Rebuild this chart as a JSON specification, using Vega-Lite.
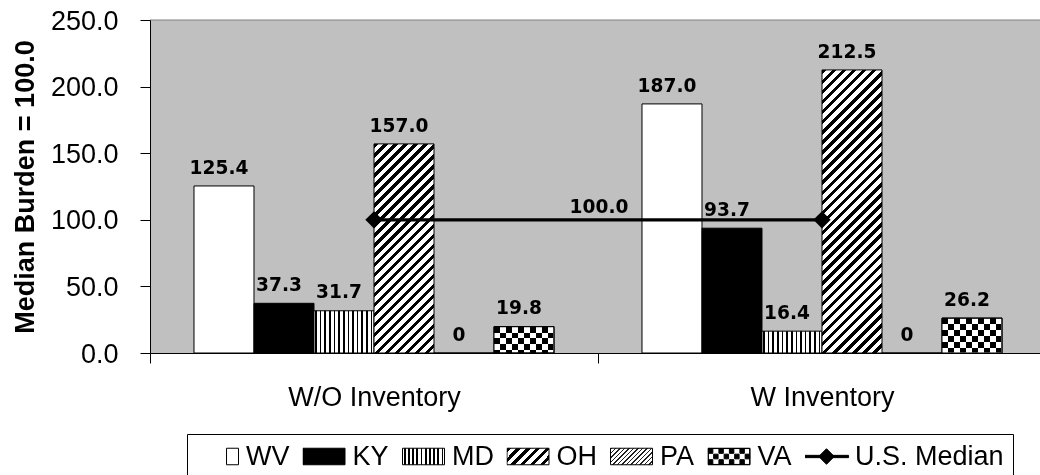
{
  "$schema": "https://vega.github.io/schema/vega-lite/v6.json",
  "width": 890,
  "height": 333,
  "autosize": {"type": "none"},
  "padding": {"left": 150, "top": 20, "right": 0, "bottom": 122},
  "background": "#ffffff",
  "view": {"fill": "#C0C0C0", "stroke": null},
  "datasets": {
    "bars": [
      {"group": "W/O Inventory", "state": "WV", "value": 125.4},
      {"group": "W/O Inventory", "state": "KY", "value": 37.3},
      {"group": "W/O Inventory", "state": "MD", "value": 31.7},
      {"group": "W/O Inventory", "state": "OH", "value": 157.0},
      {"group": "W/O Inventory", "state": "PA", "value": 0},
      {"group": "W/O Inventory", "state": "VA", "value": 19.8},
      {"group": "W Inventory", "state": "WV", "value": 187.0},
      {"group": "W Inventory", "state": "KY", "value": 93.7},
      {"group": "W Inventory", "state": "MD", "value": 16.4},
      {"group": "W Inventory", "state": "OH", "value": 212.5},
      {"group": "W Inventory", "state": "PA", "value": 0},
      {"group": "W Inventory", "state": "VA", "value": 26.2}
    ],
    "median": [
      {"group": "W/O Inventory", "series": "U.S. Median", "value": 100},
      {"group": "W Inventory", "series": "U.S. Median", "value": 100}
    ]
  },
  "layer": [
    {
      "data": {"name": "bars"},
      "mark": {"type": "bar", "stroke": "#000000", "strokeWidth": 1},
      "encoding": {
        "x": {
          "field": "group", "type": "nominal",
          "scale": {"domain": ["W/O Inventory", "W Inventory"], "range": [0, 896], "paddingInner": 0, "paddingOuter": 0},
          "axis": {
            "title": null, "labelAngle": 0, "tickBand": "extent", "tickSize": 10, "tickColor": "#000000",
            "domainColor": "#000000", "labelFont": "Liberation Sans", "labelFontSize": 27, "labelColor": "#000000",
            "labelPadding": 21, "zindex": 1
          }
        },
        "xOffset": {
          "field": "state", "type": "nominal",
          "scale": {"domain": ["WV", "KY", "MD", "OH", "PA", "VA"], "paddingInner": 0, "paddingOuter": 0.73333}
        },
        "y": {
          "field": "value", "type": "quantitative",
          "scale": {"domain": [0, 250], "nice": false, "zero": true},
          "axis": {
            "title": "Median Burden = 100.0", "values": [0, 50, 100, 150, 200, 250], "format": ".1f",
            "grid": false, "tickSize": 10, "tickColor": "#000000", "domainColor": "#000000",
            "labelFont": "Liberation Sans", "labelFontSize": 27, "labelColor": "#000000", "labelPadding": 22, "labelOffset": 1,
            "titleFont": "Liberation Sans", "titleFontSize": 27, "titleFontWeight": "bold", "titleColor": "#000000",
            "titleX": -117, "titleY": 166.5, "titleAngle": 270, "titleAlign": "center", "titleBaseline": "alphabetic", "zindex": 1
          }
        },
        "fill": {
          "field": "state", "type": "nominal",
          "scale": {
            "domain": ["WV", "KY", "MD", "OH", "PA", "VA", "U.S. Median"],
            "range": [
              "#ffffff",
              "#000000",
              {"expr": "{gradient:'linear',x1:0,y1:0,x2:1,y2:0,stops:[{offset:0,color:'#fff'},{offset:0.03,color:'#fff'},{offset:0.03,color:'#000'},{offset:0.075,color:'#000'},{offset:0.075,color:'#fff'},{offset:0.13,color:'#fff'},{offset:0.13,color:'#000'},{offset:0.175,color:'#000'},{offset:0.175,color:'#fff'},{offset:0.23,color:'#fff'},{offset:0.23,color:'#000'},{offset:0.275,color:'#000'},{offset:0.275,color:'#fff'},{offset:0.33,color:'#fff'},{offset:0.33,color:'#000'},{offset:0.375,color:'#000'},{offset:0.375,color:'#fff'},{offset:0.43,color:'#fff'},{offset:0.43,color:'#000'},{offset:0.475,color:'#000'},{offset:0.475,color:'#fff'},{offset:0.53,color:'#fff'},{offset:0.53,color:'#000'},{offset:0.575,color:'#000'},{offset:0.575,color:'#fff'},{offset:0.63,color:'#fff'},{offset:0.63,color:'#000'},{offset:0.675,color:'#000'},{offset:0.675,color:'#fff'},{offset:0.73,color:'#fff'},{offset:0.73,color:'#000'},{offset:0.775,color:'#000'},{offset:0.775,color:'#fff'},{offset:0.83,color:'#fff'},{offset:0.83,color:'#000'},{offset:0.875,color:'#000'},{offset:0.875,color:'#fff'},{offset:0.93,color:'#fff'},{offset:0.93,color:'#000'},{offset:0.975,color:'#000'},{offset:0.975,color:'#fff'},{offset:1,color:'#fff'}]}"},
              {"expr": "{gradient:'linear',x1:0,y1:0,x2:1.20663,y2:0.47403,stops:[{offset:0,color:'#000'},{offset:0.075,color:'#000'},{offset:0.075,color:'#fff'},{offset:0.166667,color:'#fff'},{offset:0.166667,color:'#000'},{offset:0.241667,color:'#000'},{offset:0.241667,color:'#fff'},{offset:0.333333,color:'#fff'},{offset:0.333333,color:'#000'},{offset:0.408333,color:'#000'},{offset:0.408333,color:'#fff'},{offset:0.5,color:'#fff'},{offset:0.5,color:'#000'},{offset:0.575,color:'#000'},{offset:0.575,color:'#fff'},{offset:0.666667,color:'#fff'},{offset:0.666667,color:'#000'},{offset:0.741667,color:'#000'},{offset:0.741667,color:'#fff'},{offset:0.833333,color:'#fff'},{offset:0.833333,color:'#000'},{offset:0.908333,color:'#000'},{offset:0.908333,color:'#fff'},{offset:1,color:'#fff'}]}"},
              {"expr": "{gradient:'linear',x1:0,y1:0,x2:1.20663,y2:0.47403,stops:[{offset:0,color:'#202020'},{offset:0.027,color:'#202020'},{offset:0.027,color:'#fff'},{offset:0.0769,color:'#fff'},{offset:0.0769,color:'#202020'},{offset:0.1039,color:'#202020'},{offset:0.1039,color:'#fff'},{offset:0.1538,color:'#fff'},{offset:0.1538,color:'#202020'},{offset:0.1808,color:'#202020'},{offset:0.1808,color:'#fff'},{offset:0.2308,color:'#fff'},{offset:0.2308,color:'#202020'},{offset:0.2578,color:'#202020'},{offset:0.2578,color:'#fff'},{offset:0.3077,color:'#fff'},{offset:0.3077,color:'#202020'},{offset:0.3347,color:'#202020'},{offset:0.3347,color:'#fff'},{offset:0.3846,color:'#fff'},{offset:0.3846,color:'#202020'},{offset:0.4116,color:'#202020'},{offset:0.4116,color:'#fff'},{offset:0.4615,color:'#fff'},{offset:0.4615,color:'#202020'},{offset:0.4885,color:'#202020'},{offset:0.4885,color:'#fff'},{offset:0.5385,color:'#fff'},{offset:0.5385,color:'#202020'},{offset:0.5655,color:'#202020'},{offset:0.5655,color:'#fff'},{offset:0.6154,color:'#fff'},{offset:0.6154,color:'#202020'},{offset:0.6424,color:'#202020'},{offset:0.6424,color:'#fff'},{offset:0.6923,color:'#fff'},{offset:0.6923,color:'#202020'},{offset:0.7193,color:'#202020'},{offset:0.7193,color:'#fff'},{offset:0.7692,color:'#fff'},{offset:0.7692,color:'#202020'},{offset:0.7962,color:'#202020'},{offset:0.7962,color:'#fff'},{offset:0.8462,color:'#fff'},{offset:0.8462,color:'#202020'},{offset:0.8732,color:'#202020'},{offset:0.8732,color:'#fff'},{offset:0.9231,color:'#fff'},{offset:0.9231,color:'#202020'},{offset:0.9501,color:'#202020'},{offset:0.9501,color:'#fff'},{offset:1,color:'#fff'}]}"},
              "#000000",
              "#000000"
            ]
          },
          "legend": {
            "title": null, "orient": "none", "legendX": 37, "legendY": 414, "direction": "horizontal",
            "padding": 9, "strokeColor": "#000000", "fillColor": "#ffffff",
            "symbolSize": 1764, "symbolType": "M-1,-0.393H1V0.393H-1Z", "clipHeight": 27,
            "labelFont": "Liberation Sans", "labelFontSize": 27, "labelColor": "#000000", "labelOffset": 7, "labelLimit": 300,
            "columnPadding": 12.5, "symbolStrokeColor": "#000000", "symbolStrokeWidth": 1, "symbolOpacity": 1,
            "encode": {
              "symbols": {
                "update": {
                  "shape": [
                    {"test": "datum.value === 'U.S. Median'", "value": "M-1.05,-0.055H1.05V0.055H-1.05ZM0,-0.37L0.37,0L0,0.37L-0.37,0Z"},
                    {"test": "datum.value === 'WV'", "value": "M0.43,-0.393H1V0.393H0.43Z"},
                    {"test": "datum.value === 'VA'", "value": "M-1,-0.393H1V0.393H-1ZM-0.985,-0.378V0.378H0.985V-0.378ZM-0.98,-0.373H-0.77V-0.151H-0.98ZM-0.48,-0.373H-0.27V-0.151H-0.48ZM0.02,-0.373H0.23V-0.151H0.02ZM0.52,-0.373H0.73V-0.151H0.52ZM-0.73,-0.111H-0.52V0.111H-0.73ZM-0.23,-0.111H-0.02V0.111H-0.23ZM0.27,-0.111H0.48V0.111H0.27ZM0.77,-0.111H0.98V0.111H0.77ZM-0.98,0.151H-0.77V0.373H-0.98ZM-0.48,0.151H-0.27V0.373H-0.48ZM0.02,0.151H0.23V0.373H0.02ZM0.52,0.151H0.73V0.373H0.52Z"},
                    {"value": "M-1,-0.393H1V0.393H-1Z"}
                  ],
                  "stroke": {"value": "#000000"},
                  "strokeWidth": {"value": 1}
                }
              }
            }
          },
          "condition": [
            {"test": "datum.state === 'MD'", "value": {"gradient": "linear", "x1": 0, "y1": 0, "x2": 1, "y2": 0, "stops": [
              {"offset": 0, "color": "#ffffff"}, {"offset": 0.02, "color": "#ffffff"}, {"offset": 0.02, "color": "#000000"}, {"offset": 0.047, "color": "#000000"},
              {"offset": 0.047, "color": "#ffffff"}, {"offset": 0.0969, "color": "#ffffff"}, {"offset": 0.0969, "color": "#000000"}, {"offset": 0.1239, "color": "#000000"},
              {"offset": 0.1239, "color": "#ffffff"}, {"offset": 0.1738, "color": "#ffffff"}, {"offset": 0.1738, "color": "#000000"}, {"offset": 0.2008, "color": "#000000"},
              {"offset": 0.2008, "color": "#ffffff"}, {"offset": 0.2508, "color": "#ffffff"}, {"offset": 0.2508, "color": "#000000"}, {"offset": 0.2778, "color": "#000000"},
              {"offset": 0.2778, "color": "#ffffff"}, {"offset": 0.3277, "color": "#ffffff"}, {"offset": 0.3277, "color": "#000000"}, {"offset": 0.3547, "color": "#000000"},
              {"offset": 0.3547, "color": "#ffffff"}, {"offset": 0.4046, "color": "#ffffff"}, {"offset": 0.4046, "color": "#000000"}, {"offset": 0.4316, "color": "#000000"},
              {"offset": 0.4316, "color": "#ffffff"}, {"offset": 0.4815, "color": "#ffffff"}, {"offset": 0.4815, "color": "#000000"}, {"offset": 0.5085, "color": "#000000"},
              {"offset": 0.5085, "color": "#ffffff"}, {"offset": 0.5585, "color": "#ffffff"}, {"offset": 0.5585, "color": "#000000"}, {"offset": 0.5855, "color": "#000000"},
              {"offset": 0.5855, "color": "#ffffff"}, {"offset": 0.6354, "color": "#ffffff"}, {"offset": 0.6354, "color": "#000000"}, {"offset": 0.6624, "color": "#000000"},
              {"offset": 0.6624, "color": "#ffffff"}, {"offset": 0.7123, "color": "#ffffff"}, {"offset": 0.7123, "color": "#000000"}, {"offset": 0.7393, "color": "#000000"},
              {"offset": 0.7393, "color": "#ffffff"}, {"offset": 0.7892, "color": "#ffffff"}, {"offset": 0.7892, "color": "#000000"}, {"offset": 0.8162, "color": "#000000"},
              {"offset": 0.8162, "color": "#ffffff"}, {"offset": 0.8662, "color": "#ffffff"}, {"offset": 0.8662, "color": "#000000"}, {"offset": 0.8932, "color": "#000000"},
              {"offset": 0.8932, "color": "#ffffff"}, {"offset": 0.9431, "color": "#ffffff"}, {"offset": 0.9431, "color": "#000000"}, {"offset": 0.9701, "color": "#000000"},
              {"offset": 0.9701, "color": "#ffffff"}, {"offset": 1, "color": "#ffffff"}
            ]}},
            {"test": "datum.state === 'OH' && datum.group === 'W/O Inventory'", "value": {"gradient": "linear", "x1": 0, "y1": 0, "x2": 0.3412, "y2": 1.18907, "stops": [
              {"offset": 0, "color": "#000000"}, {"offset": 0.016667, "color": "#000000"}, {"offset": 0.016667, "color": "#ffffff"}, {"offset": 0.037037, "color": "#ffffff"},
              {"offset": 0.037037, "color": "#000000"}, {"offset": 0.053704, "color": "#000000"}, {"offset": 0.053704, "color": "#ffffff"}, {"offset": 0.074074, "color": "#ffffff"},
              {"offset": 0.074074, "color": "#000000"}, {"offset": 0.090741, "color": "#000000"}, {"offset": 0.090741, "color": "#ffffff"}, {"offset": 0.111111, "color": "#ffffff"},
              {"offset": 0.111111, "color": "#000000"}, {"offset": 0.127778, "color": "#000000"}, {"offset": 0.127778, "color": "#ffffff"}, {"offset": 0.148148, "color": "#ffffff"},
              {"offset": 0.148148, "color": "#000000"}, {"offset": 0.164815, "color": "#000000"}, {"offset": 0.164815, "color": "#ffffff"}, {"offset": 0.185185, "color": "#ffffff"},
              {"offset": 0.185185, "color": "#000000"}, {"offset": 0.201852, "color": "#000000"}, {"offset": 0.201852, "color": "#ffffff"}, {"offset": 0.222222, "color": "#ffffff"},
              {"offset": 0.222222, "color": "#000000"}, {"offset": 0.238889, "color": "#000000"}, {"offset": 0.238889, "color": "#ffffff"}, {"offset": 0.259259, "color": "#ffffff"},
              {"offset": 0.259259, "color": "#000000"}, {"offset": 0.275926, "color": "#000000"}, {"offset": 0.275926, "color": "#ffffff"}, {"offset": 0.296296, "color": "#ffffff"},
              {"offset": 0.296296, "color": "#000000"}, {"offset": 0.312963, "color": "#000000"}, {"offset": 0.312963, "color": "#ffffff"}, {"offset": 0.333333, "color": "#ffffff"},
              {"offset": 0.333333, "color": "#000000"}, {"offset": 0.35, "color": "#000000"}, {"offset": 0.35, "color": "#ffffff"}, {"offset": 0.37037, "color": "#ffffff"},
              {"offset": 0.37037, "color": "#000000"}, {"offset": 0.387037, "color": "#000000"}, {"offset": 0.387037, "color": "#ffffff"}, {"offset": 0.407407, "color": "#ffffff"},
              {"offset": 0.407407, "color": "#000000"}, {"offset": 0.424074, "color": "#000000"}, {"offset": 0.424074, "color": "#ffffff"}, {"offset": 0.444444, "color": "#ffffff"},
              {"offset": 0.444444, "color": "#000000"}, {"offset": 0.461111, "color": "#000000"}, {"offset": 0.461111, "color": "#ffffff"}, {"offset": 0.481481, "color": "#ffffff"},
              {"offset": 0.481481, "color": "#000000"}, {"offset": 0.498148, "color": "#000000"}, {"offset": 0.498148, "color": "#ffffff"}, {"offset": 0.518519, "color": "#ffffff"},
              {"offset": 0.518519, "color": "#000000"}, {"offset": 0.535185, "color": "#000000"}, {"offset": 0.535185, "color": "#ffffff"}, {"offset": 0.555556, "color": "#ffffff"},
              {"offset": 0.555556, "color": "#000000"}, {"offset": 0.572222, "color": "#000000"}, {"offset": 0.572222, "color": "#ffffff"}, {"offset": 0.592593, "color": "#ffffff"},
              {"offset": 0.592593, "color": "#000000"}, {"offset": 0.609259, "color": "#000000"}, {"offset": 0.609259, "color": "#ffffff"}, {"offset": 0.62963, "color": "#ffffff"},
              {"offset": 0.62963, "color": "#000000"}, {"offset": 0.646296, "color": "#000000"}, {"offset": 0.646296, "color": "#ffffff"}, {"offset": 0.666667, "color": "#ffffff"},
              {"offset": 0.666667, "color": "#000000"}, {"offset": 0.683333, "color": "#000000"}, {"offset": 0.683333, "color": "#ffffff"}, {"offset": 0.703704, "color": "#ffffff"},
              {"offset": 0.703704, "color": "#000000"}, {"offset": 0.72037, "color": "#000000"}, {"offset": 0.72037, "color": "#ffffff"}, {"offset": 0.740741, "color": "#ffffff"},
              {"offset": 0.740741, "color": "#000000"}, {"offset": 0.757407, "color": "#000000"}, {"offset": 0.757407, "color": "#ffffff"}, {"offset": 0.777778, "color": "#ffffff"},
              {"offset": 0.777778, "color": "#000000"}, {"offset": 0.794444, "color": "#000000"}, {"offset": 0.794444, "color": "#ffffff"}, {"offset": 0.814815, "color": "#ffffff"},
              {"offset": 0.814815, "color": "#000000"}, {"offset": 0.831481, "color": "#000000"}, {"offset": 0.831481, "color": "#ffffff"}, {"offset": 0.851852, "color": "#ffffff"},
              {"offset": 0.851852, "color": "#000000"}, {"offset": 0.868519, "color": "#000000"}, {"offset": 0.868519, "color": "#ffffff"}, {"offset": 0.888889, "color": "#ffffff"},
              {"offset": 0.888889, "color": "#000000"}, {"offset": 0.905556, "color": "#000000"}, {"offset": 0.905556, "color": "#ffffff"}, {"offset": 0.925926, "color": "#ffffff"},
              {"offset": 0.925926, "color": "#000000"}, {"offset": 0.942593, "color": "#000000"}, {"offset": 0.942593, "color": "#ffffff"}, {"offset": 0.962963, "color": "#ffffff"},
              {"offset": 0.962963, "color": "#000000"}, {"offset": 0.97963, "color": "#000000"}, {"offset": 0.97963, "color": "#ffffff"}, {"offset": 1, "color": "#ffffff"}
            ]}},
            {"test": "datum.state === 'OH' && datum.group === 'W Inventory'", "value": {"gradient": "linear", "x1": 0, "y1": 0, "x2": 0.24581, "y2": 1.15981, "stops": [
              {"offset": 0, "color": "#000000"}, {"offset": 0.013235, "color": "#000000"}, {"offset": 0.013235, "color": "#ffffff"}, {"offset": 0.029412, "color": "#ffffff"},
              {"offset": 0.029412, "color": "#000000"}, {"offset": 0.042647, "color": "#000000"}, {"offset": 0.042647, "color": "#ffffff"}, {"offset": 0.058824, "color": "#ffffff"},
              {"offset": 0.058824, "color": "#000000"}, {"offset": 0.072059, "color": "#000000"}, {"offset": 0.072059, "color": "#ffffff"}, {"offset": 0.088235, "color": "#ffffff"},
              {"offset": 0.088235, "color": "#000000"}, {"offset": 0.101471, "color": "#000000"}, {"offset": 0.101471, "color": "#ffffff"}, {"offset": 0.117647, "color": "#ffffff"},
              {"offset": 0.117647, "color": "#000000"}, {"offset": 0.130882, "color": "#000000"}, {"offset": 0.130882, "color": "#ffffff"}, {"offset": 0.147059, "color": "#ffffff"},
              {"offset": 0.147059, "color": "#000000"}, {"offset": 0.160294, "color": "#000000"}, {"offset": 0.160294, "color": "#ffffff"}, {"offset": 0.176471, "color": "#ffffff"},
              {"offset": 0.176471, "color": "#000000"}, {"offset": 0.189706, "color": "#000000"}, {"offset": 0.189706, "color": "#ffffff"}, {"offset": 0.205882, "color": "#ffffff"},
              {"offset": 0.205882, "color": "#000000"}, {"offset": 0.219118, "color": "#000000"}, {"offset": 0.219118, "color": "#ffffff"}, {"offset": 0.235294, "color": "#ffffff"},
              {"offset": 0.235294, "color": "#000000"}, {"offset": 0.248529, "color": "#000000"}, {"offset": 0.248529, "color": "#ffffff"}, {"offset": 0.264706, "color": "#ffffff"},
              {"offset": 0.264706, "color": "#000000"}, {"offset": 0.277941, "color": "#000000"}, {"offset": 0.277941, "color": "#ffffff"}, {"offset": 0.294118, "color": "#ffffff"},
              {"offset": 0.294118, "color": "#000000"}, {"offset": 0.307353, "color": "#000000"}, {"offset": 0.307353, "color": "#ffffff"}, {"offset": 0.323529, "color": "#ffffff"},
              {"offset": 0.323529, "color": "#000000"}, {"offset": 0.336765, "color": "#000000"}, {"offset": 0.336765, "color": "#ffffff"}, {"offset": 0.352941, "color": "#ffffff"},
              {"offset": 0.352941, "color": "#000000"}, {"offset": 0.366176, "color": "#000000"}, {"offset": 0.366176, "color": "#ffffff"}, {"offset": 0.382353, "color": "#ffffff"},
              {"offset": 0.382353, "color": "#000000"}, {"offset": 0.395588, "color": "#000000"}, {"offset": 0.395588, "color": "#ffffff"}, {"offset": 0.411765, "color": "#ffffff"},
              {"offset": 0.411765, "color": "#000000"}, {"offset": 0.425, "color": "#000000"}, {"offset": 0.425, "color": "#ffffff"}, {"offset": 0.441176, "color": "#ffffff"},
              {"offset": 0.441176, "color": "#000000"}, {"offset": 0.454412, "color": "#000000"}, {"offset": 0.454412, "color": "#ffffff"}, {"offset": 0.470588, "color": "#ffffff"},
              {"offset": 0.470588, "color": "#000000"}, {"offset": 0.483824, "color": "#000000"}, {"offset": 0.483824, "color": "#ffffff"}, {"offset": 0.5, "color": "#ffffff"},
              {"offset": 0.5, "color": "#000000"}, {"offset": 0.513235, "color": "#000000"}, {"offset": 0.513235, "color": "#ffffff"}, {"offset": 0.529412, "color": "#ffffff"},
              {"offset": 0.529412, "color": "#000000"}, {"offset": 0.542647, "color": "#000000"}, {"offset": 0.542647, "color": "#ffffff"}, {"offset": 0.558824, "color": "#ffffff"},
              {"offset": 0.558824, "color": "#000000"}, {"offset": 0.572059, "color": "#000000"}, {"offset": 0.572059, "color": "#ffffff"}, {"offset": 0.588235, "color": "#ffffff"},
              {"offset": 0.588235, "color": "#000000"}, {"offset": 0.601471, "color": "#000000"}, {"offset": 0.601471, "color": "#ffffff"}, {"offset": 0.617647, "color": "#ffffff"},
              {"offset": 0.617647, "color": "#000000"}, {"offset": 0.630882, "color": "#000000"}, {"offset": 0.630882, "color": "#ffffff"}, {"offset": 0.647059, "color": "#ffffff"},
              {"offset": 0.647059, "color": "#000000"}, {"offset": 0.660294, "color": "#000000"}, {"offset": 0.660294, "color": "#ffffff"}, {"offset": 0.676471, "color": "#ffffff"},
              {"offset": 0.676471, "color": "#000000"}, {"offset": 0.689706, "color": "#000000"}, {"offset": 0.689706, "color": "#ffffff"}, {"offset": 0.705882, "color": "#ffffff"},
              {"offset": 0.705882, "color": "#000000"}, {"offset": 0.719118, "color": "#000000"}, {"offset": 0.719118, "color": "#ffffff"}, {"offset": 0.735294, "color": "#ffffff"},
              {"offset": 0.735294, "color": "#000000"}, {"offset": 0.748529, "color": "#000000"}, {"offset": 0.748529, "color": "#ffffff"}, {"offset": 0.764706, "color": "#ffffff"},
              {"offset": 0.764706, "color": "#000000"}, {"offset": 0.777941, "color": "#000000"}, {"offset": 0.777941, "color": "#ffffff"}, {"offset": 0.794118, "color": "#ffffff"},
              {"offset": 0.794118, "color": "#000000"}, {"offset": 0.807353, "color": "#000000"}, {"offset": 0.807353, "color": "#ffffff"}, {"offset": 0.823529, "color": "#ffffff"},
              {"offset": 0.823529, "color": "#000000"}, {"offset": 0.836765, "color": "#000000"}, {"offset": 0.836765, "color": "#ffffff"}, {"offset": 0.852941, "color": "#ffffff"},
              {"offset": 0.852941, "color": "#000000"}, {"offset": 0.866176, "color": "#000000"}, {"offset": 0.866176, "color": "#ffffff"}, {"offset": 0.882353, "color": "#ffffff"},
              {"offset": 0.882353, "color": "#000000"}, {"offset": 0.895588, "color": "#000000"}, {"offset": 0.895588, "color": "#ffffff"}, {"offset": 0.911765, "color": "#ffffff"},
              {"offset": 0.911765, "color": "#000000"}, {"offset": 0.925, "color": "#000000"}, {"offset": 0.925, "color": "#ffffff"}, {"offset": 0.941176, "color": "#ffffff"},
              {"offset": 0.941176, "color": "#000000"}, {"offset": 0.954412, "color": "#000000"}, {"offset": 0.954412, "color": "#ffffff"}, {"offset": 0.970588, "color": "#ffffff"},
              {"offset": 0.970588, "color": "#000000"}, {"offset": 0.983824, "color": "#000000"}, {"offset": 0.983824, "color": "#ffffff"}, {"offset": 1, "color": "#ffffff"}
            ]}},
            {"test": "datum.state === 'VA'", "value": {"gradient": "linear", "x1": 0, "y1": 0, "x2": 1, "y2": 0, "stops": [
              {"offset": 0, "color": "#000000"}, {"offset": 0.1, "color": "#000000"}, {"offset": 0.1, "color": "#ffffff"}, {"offset": 0.2, "color": "#ffffff"},
              {"offset": 0.2, "color": "#000000"}, {"offset": 0.3, "color": "#000000"}, {"offset": 0.3, "color": "#ffffff"}, {"offset": 0.4, "color": "#ffffff"},
              {"offset": 0.4, "color": "#000000"}, {"offset": 0.5, "color": "#000000"}, {"offset": 0.5, "color": "#ffffff"}, {"offset": 0.6, "color": "#ffffff"},
              {"offset": 0.6, "color": "#000000"}, {"offset": 0.7, "color": "#000000"}, {"offset": 0.7, "color": "#ffffff"}, {"offset": 0.8, "color": "#ffffff"},
              {"offset": 0.8, "color": "#000000"}, {"offset": 0.9, "color": "#000000"}, {"offset": 0.9, "color": "#ffffff"}, {"offset": 1, "color": "#ffffff"}
            ]}}
          ]
        }
      }
    },
    {
      "data": {"name": "bars"},
      "transform": [{"filter": "datum.state === 'VA'"}],
      "mark": {"type": "bar", "blend": "difference", "strokeWidth": 0},
      "encoding": {
        "x": {"field": "group", "type": "nominal"},
        "xOffset": {"field": "state", "type": "nominal"},
        "y": {"field": "value", "type": "quantitative"},
        "fill": {
          "condition": [
            {"test": "datum.group === 'W/O Inventory'", "value": {"gradient": "linear", "x1": 0, "y1": 0, "x2": 0, "y2": 1, "stops": [
              {"offset": 0, "color": "rgba(0,0,0,0)"}, {"offset": 0.2237, "color": "rgba(0,0,0,0)"}, {"offset": 0.2237, "color": "#ffffff"}, {"offset": 0.4475, "color": "#ffffff"},
              {"offset": 0.4475, "color": "rgba(0,0,0,0)"}, {"offset": 0.6712, "color": "rgba(0,0,0,0)"}, {"offset": 0.6712, "color": "#ffffff"}, {"offset": 0.8949, "color": "#ffffff"},
              {"offset": 0.8949, "color": "rgba(0,0,0,0)"}, {"offset": 1, "color": "rgba(0,0,0,0)"}
            ]}}
          ],
          "value": {"gradient": "linear", "x1": 0, "y1": 0, "x2": 0, "y2": 1, "stops": [
            {"offset": 0, "color": "rgba(0,0,0,0)"}, {"offset": 0.1691, "color": "rgba(0,0,0,0)"}, {"offset": 0.1691, "color": "#ffffff"}, {"offset": 0.3381, "color": "#ffffff"},
            {"offset": 0.3381, "color": "rgba(0,0,0,0)"}, {"offset": 0.5072, "color": "rgba(0,0,0,0)"}, {"offset": 0.5072, "color": "#ffffff"}, {"offset": 0.6762, "color": "#ffffff"},
            {"offset": 0.6762, "color": "rgba(0,0,0,0)"}, {"offset": 0.8453, "color": "rgba(0,0,0,0)"}, {"offset": 0.8453, "color": "#ffffff"}, {"offset": 1, "color": "#ffffff"}
          ]}
        }
      }
    },
    {
      "data": {"name": "bars"},
      "transform": [{"filter": "datum.state === 'VA'"}],
      "mark": {"type": "bar", "fill": "#000000", "fillOpacity": 0, "stroke": "#000000", "strokeWidth": 1},
      "encoding": {
        "x": {"field": "group", "type": "nominal"},
        "xOffset": {"field": "state", "type": "nominal"},
        "y": {"field": "value", "type": "quantitative"}
      }
    },
    {
      "data": {"values": [{}]},
      "mark": {"type": "rule", "color": "#808080", "strokeWidth": 1},
      "encoding": {"y": {"datum": 250}}
    },
    {
      "data": {"name": "median"},
      "mark": {"type": "line", "color": "#000000", "strokeWidth": 3.2, "point": {"shape": "diamond", "size": 300, "filled": true, "color": "#000000"}},
      "encoding": {
        "x": {"field": "group", "type": "nominal"},
        "y": {"field": "value", "type": "quantitative"}
      }
    },
    {
      "data": {"name": "bars"},
      "mark": {"type": "text", "font": "DejaVu Sans", "fontWeight": "bold", "fontSize": 18.6, "color": "#000000", "dy": -18.3, "dx": -5, "align": "center", "baseline": "middle"},
      "encoding": {
        "x": {"field": "group", "type": "nominal"},
        "xOffset": {"field": "state", "type": "nominal"},
        "y": {"field": "value", "type": "quantitative"},
        "text": {"condition": {"test": "datum.value === 0", "value": "0"}, "field": "value", "type": "quantitative", "format": ".1f"}
      }
    },
    {
      "data": {"name": "median"},
      "transform": [{"filter": "datum.group === 'W/O Inventory'"}],
      "mark": {"type": "text", "font": "DejaVu Sans", "fontWeight": "bold", "fontSize": 18.6, "color": "#000000", "dy": -12.8, "dx": 1, "align": "center", "baseline": "middle"},
      "encoding": {
        "x": {"field": "group", "type": "nominal", "bandPosition": 1},
        "y": {"field": "value", "type": "quantitative"},
        "text": {"field": "value", "type": "quantitative", "format": ".1f"}
      }
    }
  ]
}
